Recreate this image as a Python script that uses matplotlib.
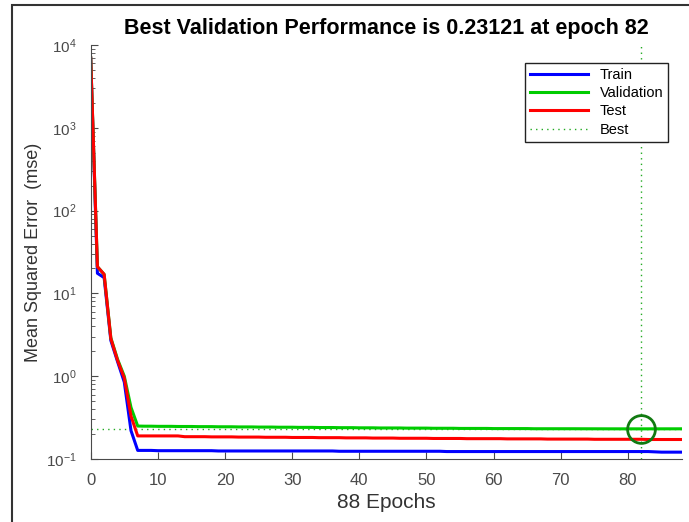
import matplotlib.pyplot as plt
from matplotlib.patches import Rectangle

plt.rcParams['font.family'] = ['Liberation Sans', 'DejaVu Sans']

# Performance per epoch
epochs = list(range(89))
train = [
    6900, 17.5, 15.5, 2.7, 1.5, 0.85, 0.22, 0.127, 0.127, 0.127,
    0.126, 0.126, 0.126, 0.126, 0.126, 0.126, 0.126, 0.126, 0.126, 0.125,
    0.125, 0.125, 0.125, 0.125, 0.125, 0.125, 0.125, 0.125, 0.125, 0.125,
    0.125, 0.125, 0.125, 0.125, 0.125, 0.125, 0.125, 0.124, 0.124, 0.124,
    0.124, 0.124, 0.124, 0.124, 0.124, 0.124, 0.124, 0.124, 0.124, 0.124,
    0.124, 0.124, 0.124, 0.123, 0.123, 0.123, 0.123, 0.123, 0.123, 0.123,
    0.123, 0.123, 0.123, 0.123, 0.123, 0.123, 0.123, 0.123, 0.123, 0.123,
    0.123, 0.123, 0.123, 0.123, 0.123, 0.123, 0.123, 0.123, 0.123, 0.123,
    0.123, 0.123, 0.123, 0.123, 0.122, 0.121, 0.121, 0.121, 0.121,
]
validation = [
    7000, 21, 17, 2.9, 1.6, 1.0, 0.42, 0.25, 0.249, 0.249,
    0.248, 0.248, 0.248, 0.247, 0.247, 0.247, 0.246, 0.246, 0.246, 0.245,
    0.245, 0.245, 0.244, 0.244, 0.244, 0.243, 0.243, 0.243, 0.242, 0.242,
    0.242, 0.241, 0.241, 0.241, 0.240, 0.240, 0.240, 0.239, 0.239, 0.239,
    0.238, 0.238, 0.238, 0.237, 0.237, 0.237, 0.237, 0.236, 0.236, 0.236,
    0.236, 0.235, 0.235, 0.235, 0.235, 0.234, 0.234, 0.234, 0.234, 0.234,
    0.233, 0.233, 0.233, 0.233, 0.233, 0.233, 0.232, 0.232, 0.232, 0.232,
    0.232, 0.232, 0.232, 0.2318, 0.2317, 0.2316, 0.2315, 0.2314, 0.2314, 0.2313,
    0.2313, 0.2313, 0.23121, 0.2313, 0.2314, 0.2314, 0.2315, 0.2315, 0.2316,
]
test = [
    7000, 21, 17, 2.85, 1.55, 0.95, 0.33, 0.19, 0.19, 0.19,
    0.19, 0.19, 0.19, 0.19, 0.186, 0.186, 0.186, 0.186, 0.185, 0.185,
    0.185, 0.185, 0.184, 0.184, 0.184, 0.184, 0.183, 0.183, 0.183, 0.183,
    0.182, 0.182, 0.182, 0.182, 0.181, 0.181, 0.181, 0.181, 0.180, 0.180,
    0.180, 0.180, 0.179, 0.179, 0.179, 0.179, 0.178, 0.178, 0.178, 0.178,
    0.178, 0.177, 0.177, 0.177, 0.177, 0.177, 0.176, 0.176, 0.176, 0.176,
    0.176, 0.176, 0.175, 0.175, 0.175, 0.175, 0.175, 0.175, 0.174, 0.174,
    0.174, 0.174, 0.174, 0.174, 0.174, 0.173, 0.173, 0.173, 0.173, 0.173,
    0.173, 0.173, 0.173, 0.172, 0.172, 0.172, 0.172, 0.172, 0.172,
]
best_epoch = 82
best_value = 0.23121

axis_grey = '#4a4a4a'

fig = plt.figure(figsize=(6.89, 5.22), dpi=100)
ax = fig.add_axes([90.7 / 689, 1 - 459 / 522, (681.7 - 90.7) / 689, (459 - 45) / 522])

ax.plot(epochs, train, color='#0000ff', lw=2.2, label='Train')
ax.plot(epochs, validation, color='#00cc00', lw=2.2, label='Validation')
ax.plot(epochs, test, color='#ff0000', lw=2.2, label='Test')
ax.axhline(best_value, color='#22aa22', lw=1.0, ls=(0, (1, 3)), label='Best', zorder=0)
ax.axvline(best_epoch, color='#22aa22', lw=1.0, ls=(0, (1, 3)), zorder=0)
ax.plot([best_epoch], [best_value], 'o', ms=20, mfc='none', mec='#117a11', mew=2)

ax.set_yscale('log')
ax.set_xlim(0, 88)
ax.set_ylim(1e-1, 1e4)
ax.set_xticks([0, 10, 20, 30, 40, 50, 60, 70, 80])

for side in ['top', 'right']:
    ax.spines[side].set_visible(False)
for side in ['left', 'bottom']:
    ax.spines[side].set_color(axis_grey)
ax.tick_params(which='both', direction='in', colors=axis_grey)
ax.tick_params(which='major', length=5)
ax.tick_params(which='minor', length=3)
ax.tick_params(axis='x', pad=10, labelsize=12)
ax.tick_params(axis='y', pad=10, labelsize=11)

ax.set_title('Best Validation Performance is 0.23121 at epoch 82',
             fontsize=15.5, fontweight='bold', pad=8)
ax.set_xlabel('88 Epochs', fontsize=15, color='#333333', labelpad=4)
ax.set_ylabel('Mean Squared Error  (mse)', fontsize=13, color='#333333', labelpad=3)

leg = ax.legend(loc='upper right', bbox_to_anchor=(0.99, 0.975), fontsize=10.5,
                fancybox=False, framealpha=1, edgecolor='#222222',
                handlelength=4.0, borderpad=0.35, labelspacing=0.3)
leg.get_frame().set_linewidth(1.0)

# outer frame of the figure window
fig.patches.append(Rectangle((12 / 689, -0.1), 1.2, 1 - 5 / 522 + 0.1,
                             transform=fig.transFigure, fill=False,
                             edgecolor='#333333', lw=1.5))

fig.savefig('out.png', dpi=100)
